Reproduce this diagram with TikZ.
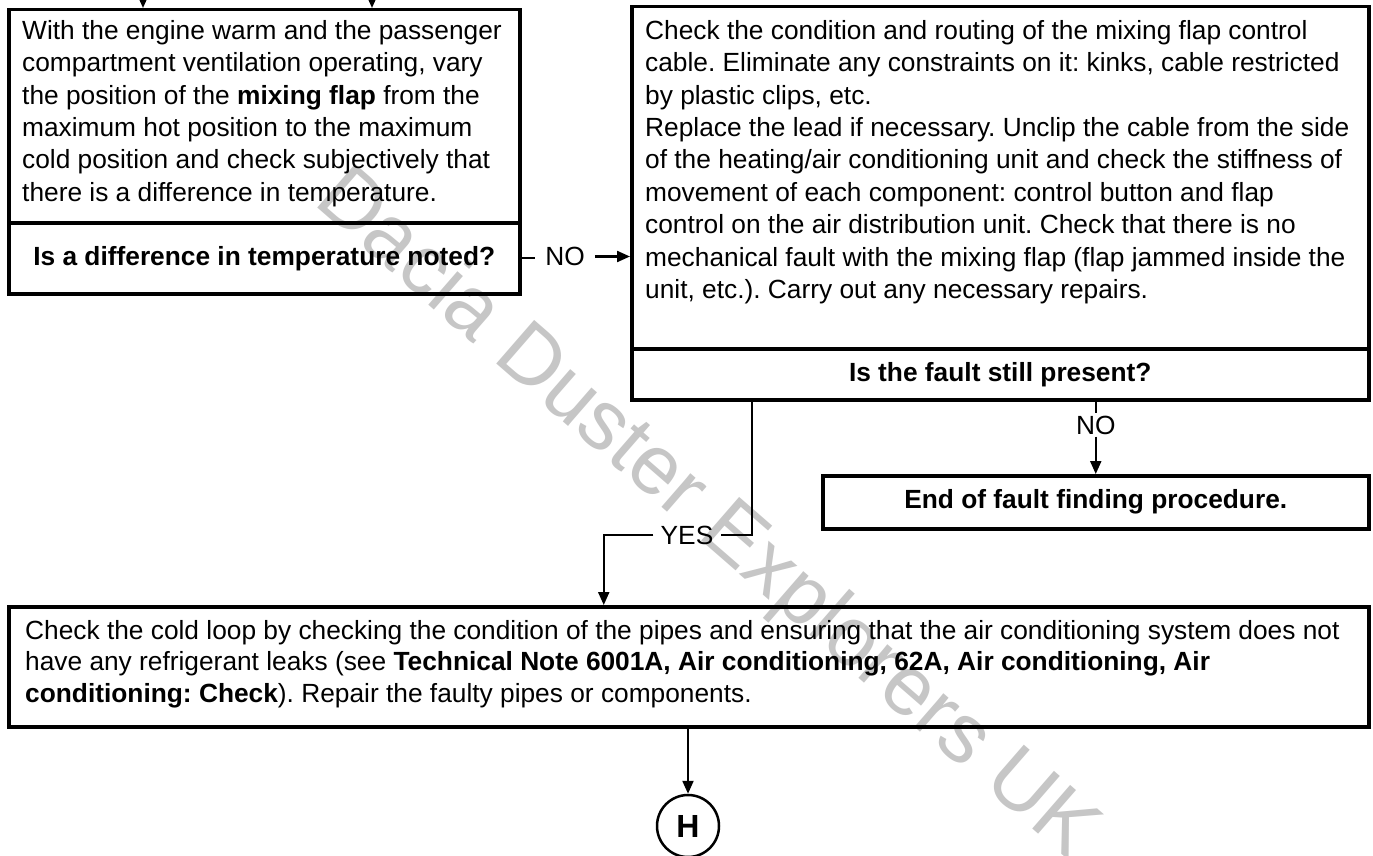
\documentclass[tikz,border=0pt]{standalone}
\usepackage{fontspec}
\setmainfont{Liberation Sans}
\usetikzlibrary{arrows.meta,calc}
\frenchspacing
\newcommand{\fsmain}{\fontsize{26.3}{32.4}\selectfont}
\newcommand{\fsbox}{\fontsize{26.3}{31.5}\selectfont}
\definecolor{wmgray}{RGB}{198,198,198}
\begin{document}
\begin{tikzpicture}[x=1pt,y=-1pt,
  boxn/.style={draw, line width=3.5pt, anchor=north west, inner sep=0pt, font=\fsmain\bfseries},
  txt/.style={anchor=north west, inner sep=0pt, align=left, font=\fsmain},
  conn/.style={line width=2.2pt},
  arr/.style={conn, -{Triangle[length=13pt,width=11pt]}},
  lab/.style={font=\fsmain, inner sep=1pt},
  circ/.style={draw, circle, line width=2.5pt, minimum size=62pt, inner sep=0pt, font=\fontsize{32}{36}\selectfont\bfseries},
  wm/.style={font=\fontsize{84}{90}\selectfont, text=wmgray, inner sep=0pt, rotate=-41, anchor=base west}
]
\useasboundingbox (0,0) rectangle (1373,856);
\fill[white] (0,0) rectangle (1373,856);

% watermark
\node[wm] (wm) at (312,203) {Dacia Duster Explorers UK};

% box 1
\node[boxn, minimum width=511pt, minimum height=213pt] (b1) at (7,8) {};
\node[boxn, minimum width=511pt, minimum height=71pt] (q1) at (7,221) {Is a difference in temperature noted?};
\node[txt] (t1) at (22,20) {With the engine warm and the passenger\\compartment ventilation operating, vary\\the position of the \textbf{mixing flap} from the\\maximum hot position to the maximum\\cold position and check subjectively that\\there is a difference in temperature.};

% box 2
\node[boxn, minimum width=737pt, minimum height=342pt] (b2) at (630,5) {};
\node[boxn, minimum width=737pt, minimum height=51pt] (q2) at (630,347) {Is the fault still present?};
\node[txt] (t2) at (645,20) {Check the condition and routing of the mixing flap control\\cable. Eliminate any constraints on it: kinks, cable restricted\\by plastic clips, etc.\\Replace the lead if necessary. Unclip the cable from the side\\of the heating/air conditioning unit and check the stiffness of\\movement of each component: control button and flap\\control on the air distribution unit. Check that there is no\\mechanical fault with the mixing flap (flap jammed inside the\\unit, etc.). Carry out any necessary repairs.};

% box 4
\node[boxn, minimum width=546pt, minimum height=53pt] (b4) at (821,474) {End of fault finding procedure.};

% box 3
\node[boxn, minimum width=1360pt, minimum height=120pt] (b3) at (7,605) {};
\node[txt, font=\fsbox] (t3) at (25,620) {Check the cold loop by checking the condition of the pipes and ensuring that the air conditioning system does not\\have any refrigerant leaks (see \textbf{Technical Note 6001A, Air conditioning, 62A, Air conditioning, Air}\\\textbf{conditioning: Check}). Repair the faulty pipes or components.};

% end connector
\node[circ] (h) at (688,826) {H};

% incoming arrows
\coordinate (in1) at (143,-15);
\coordinate (in2) at (372,-15);
\draw[arr] (in1) -- (in1 |- b1.north);
\draw[arr] (in2) -- (in2 |- b1.north);

% NO from q1 to b2
\node[lab] (no1) at (565,256.5) {NO};
\draw[conn] (q1.east) -- ++(13,0);
\draw[arr] ([xshift=9pt]no1.east) -- (no1.east -| b2.west);

% NO from q2 to b4
\node[lab] (no2) at ($(b4.north)+(0,-49)$) {NO};
\draw[conn] (no2.north |- q2.south) -- ([yshift=1pt]no2.north);
\draw[arr] ([yshift=-1pt]no2.south) -- (b4.north);

% YES from q2 to b3
\node[lab] (yes) at (687,535) {YES};
\draw[conn] ([xshift=122pt]q2.south west) |- ([xshift=6pt]yes.east);
\draw[arr] ([xshift=-6pt]yes.west) -| ([xshift=-85pt]b3.north);

% b3 to H
\draw[arr] (h.north |- b3.south) -- (h.north);
\end{tikzpicture}
\end{document}
